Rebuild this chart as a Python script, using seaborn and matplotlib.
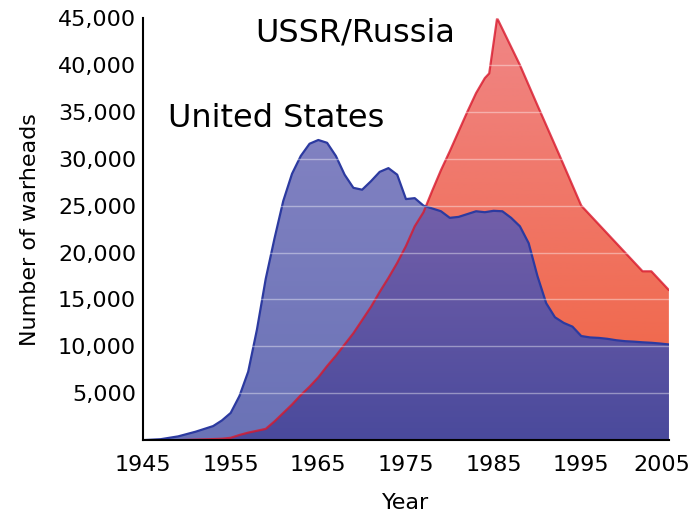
import numpy as np
import pandas as pd
import matplotlib
matplotlib.use("Agg")
import matplotlib.pyplot as plt
import matplotlib.transforms as mtransforms
import seaborn as sns
from matplotlib.colors import LinearSegmentedColormap
from matplotlib.ticker import FuncFormatter

# values
us_years = [1945, 1947, 1949, 1951, 1953, 1954, 1955, 1956, 1957, 1958, 1959, 1960,
            1961, 1962, 1963, 1964, 1965, 1966, 1967, 1968, 1969, 1970, 1971, 1972,
            1973, 1974, 1975, 1976, 1977, 1978, 1979, 1980, 1981, 1982, 1983, 1984,
            1985, 1986, 1987, 1988, 1989, 1990, 1991, 1992, 1993, 1994, 1995, 1996,
            1997, 1998, 1999, 2000, 2001, 2002, 2003, 2004, 2005]
us_warheads = [0, 100, 400, 900, 1500, 2100, 2900, 4700, 7300, 11800, 17200, 21500,
               25500, 28400, 30300, 31600, 32000, 31700, 30300, 28300, 26900, 26700, 27600, 28600,
               29000, 28300, 25700, 25800, 25000, 24700, 24400, 23700, 23800, 24100, 24400, 24300,
               24450, 24400, 23700, 22800, 21000, 17500, 14600, 13100, 12500, 12100, 11100, 10950,
               10900, 10800, 10650, 10550, 10500, 10430, 10380, 10300, 10200]

ussr_years = [1945, 1949, 1952, 1954, 1955, 1956, 1957, 1958, 1959, 1960, 1961, 1962,
              1963, 1964, 1965, 1966, 1967, 1968, 1969, 1970, 1971, 1972, 1973, 1974,
              1975, 1976, 1977, 1978, 1979, 1980, 1981, 1982, 1983, 1984, 1984.5, 1985.4,
              1988, 1990, 1992.5, 1995, 1996.4, 2002, 2003, 2005]
ussr_warheads = [0, 0, 80, 150, 250, 550, 800, 1000, 1200, 2000, 2900, 3800,
                 4800, 5700, 6700, 7900, 9000, 10200, 11400, 12800, 14200, 15800, 17300, 18900,
                 20700, 22800, 24300, 26600, 28800, 30800, 32900, 35000, 37000, 38600, 39100, 45000,
                 40000, 35700, 30400, 25000, 23600, 18000, 18000, 16000]

x_ticks = [1945, 1955, 1965, 1975, 1985, 1995, 2005]
y_ticks = [5000, 10000, 15000, 20000, 25000, 30000, 35000, 40000, 45000]

us = pd.DataFrame({"Year": us_years, "Warheads": us_warheads})
ussr = pd.DataFrame({"Year": ussr_years, "Warheads": ussr_warheads})

# region where both stockpiles overlap (drawn darker, as in the original)
grid = np.linspace(1945, 2005, 2401)
both = pd.DataFrame({"Year": grid,
                     "Warheads": np.minimum(np.interp(grid, us_years, us_warheads),
                                            np.interp(grid, ussr_years, ussr_warheads))})

sns.set_style("white")
plt.rcParams["font.family"] = ["DejaVu Sans"]
for k in ["text.color", "axes.labelcolor", "xtick.color", "ytick.color"]:
    plt.rcParams[k] = "black"

fig = plt.figure(figsize=(6.91, 5.16), dpi=100)
ax = fig.add_axes([0.207, 0.147, 0.761, 0.818])
ax.set_xlim(1945, 2005)
ax.set_ylim(0, 45000)


def gradient_fill(df, top, bottom, z):
    poly = ax.fill_between(df["Year"], df["Warheads"], 0, color="none", lw=0)
    cmap = LinearSegmentedColormap.from_list("g", [bottom, top])
    grad = np.linspace(0, 1, 256).reshape(-1, 1)
    im = ax.imshow(grad, cmap=cmap, aspect="auto", origin="lower",
                   extent=[1945, 2005, 0, 45000], zorder=z)
    im.set_clip_path(poly.get_paths()[0], transform=ax.transData)


gradient_fill(ussr, "#f08686", "#f0623f", 1)
gradient_fill(us, "#8a88c6", "#6a72b6", 1.2)
gradient_fill(both, "#9470b4", "#4a4a9c", 1.4)

sns.lineplot(data=ussr, x="Year", y="Warheads", color="#d8182c", lw=1.6, alpha=0.8,
             ax=ax, zorder=1.6)
sns.lineplot(data=us, x="Year", y="Warheads", color="#2c3aa0", lw=1.6, ax=ax, zorder=2)

ax.set_xlim(1945, 2005)
ax.set_ylim(0, 45000)
ax.set_axisbelow(False)
ax.grid(axis="y", color="white", alpha=0.4, lw=1)
ax.grid(axis="x", visible=False)

ax.set_xticks(x_ticks)
ax.set_yticks(y_ticks)
ax.yaxis.set_major_formatter(FuncFormatter(lambda v, p: f"{int(v):,}"))
ax.tick_params(length=0, labelsize=16)
ax.tick_params(axis="x", pad=11)
ax.tick_params(axis="y", pad=5)
# last year label sits a little left of its tick in the original
last = ax.get_xticklabels()[-1]
last.set_transform(last.get_transform() +
                   mtransforms.ScaledTranslation(-7 / 100, 0, fig.dpi_scale_trans))

for s in ["top", "right"]:
    ax.spines[s].set_visible(False)
for s in ["left", "bottom"]:
    ax.spines[s].set_color("black")
    ax.spines[s].set_linewidth(1.5)
    ax.spines[s].set_zorder(5)

ax.set_xlabel("Year", fontsize=16, labelpad=13)
ax.set_ylabel("Number of warheads", fontsize=16, labelpad=13)

ax.text(0.213, 0.964, "USSR/Russia", transform=ax.transAxes, fontsize=23,
        va="center", ha="left", zorder=6)
ax.text(0.048, 0.763, "United States", transform=ax.transAxes, fontsize=23,
        va="center", ha="left", zorder=6)

fig.savefig("out.png", dpi=100)
